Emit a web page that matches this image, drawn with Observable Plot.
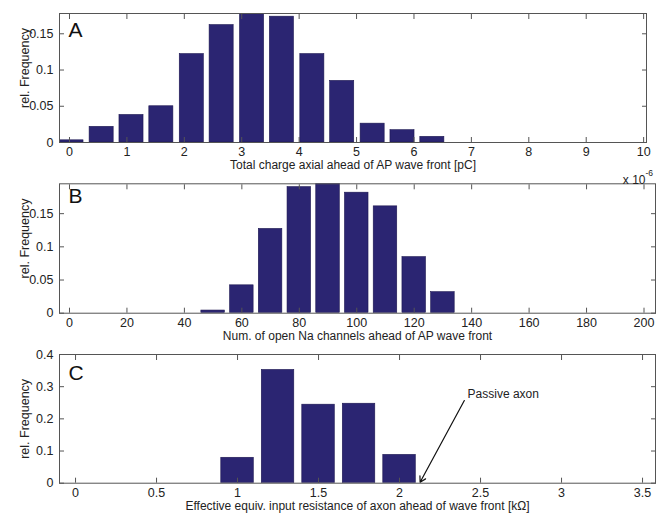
<!DOCTYPE html>
<html><head><meta charset="utf-8">
<script src="https://cdn.jsdelivr.net/npm/d3@7"></script>
<script src="https://cdn.jsdelivr.net/npm/@observablehq/plot@0.6"></script>
<style>
body{margin:0;background:#fff;}
#fig{position:relative;width:657px;height:518px;}
#fig svg{position:absolute;left:0;}
</style></head><body><div id="fig"></div>
<script>
// Panel A: total charge (x 1e-6 pC)
const chargeCenters = [0.035, 0.56, 1.08, 1.60, 2.13, 2.65, 3.18, 3.70, 4.23, 4.75, 5.28, 5.80, 6.32];
const chargeFreq    = [0.003, 0.0216, 0.038, 0.050, 0.122, 0.162, 0.182, 0.1736, 0.122, 0.085, 0.026, 0.017, 0.0078];
const chargeTicksX  = [0,1,2,3,4,5,6,7,8,9,10];
// Panel B: number of open Na channels
const naCenters = [50, 60, 70, 80, 90, 100, 110, 120, 130];
const naFreq    = [0.004, 0.042, 0.127, 0.190, 0.198, 0.1816, 0.161, 0.0845, 0.0317];
const naTicksX  = [0,20,40,60,80,100,120,140,160,180,200];
const freqTicksAB = [0, 0.05, 0.1, 0.15];
// Panel C: effective input resistance (kOhm)
const resCenters = [1.0, 1.25, 1.5, 1.75, 2.0];
const resFreq    = [0.079, 0.352, 0.244, 0.247, 0.088];
const resTicksX  = [0, 0.5, 1, 1.5, 2, 2.5, 3, 3.5];
const freqTicksC = [0, 0.1, 0.2, 0.3, 0.4];
const passiveAxon = [{label: "Passive axon", x: 2.127, y: 0.003, x0: 2.40, y0: 0.257, lx: 2.42, ly: 0.276}];

const FONT = "Liberation Sans, Arial, Helvetica, sans-serif";
const BAR = "#2b2572";
const fmt = d => `${d}`;

function panel(o) {
  const data = o.centers.map((c, i) => ({x1: c - o.bin / 2, x2: c + o.bin / 2, y: o.freqs[i]}));
  const marks = [
    Plot.rectY(data, {x1: "x1", x2: "x2", y: "y", fill: BAR, stroke: "#1c1650", strokeWidth: 0.6,
      insetLeft: o.inset, insetRight: o.inset, clip: true}),
    Plot.frame({stroke: "#555", strokeWidth: 1}),
    Plot.axisX(o.xTicks, {anchor: "bottom", tickSize: -5, tickPadding: 10, tickFormat: fmt, label: null,
      stroke: "#555", fill: "#222", fontSize: 12.5}),
    Plot.axisX(o.xTicks, {anchor: "top", tickSize: -5, tickFormat: () => "", label: null, stroke: "#555"}),
    Plot.axisY(o.yTicks, {anchor: "left", tickSize: -5, tickPadding: 11, tickFormat: fmt, label: null,
      stroke: "#555", fill: "#222", fontSize: 12.5}),
    Plot.axisY(o.yTicks, {anchor: "right", tickSize: -5, tickFormat: () => "", label: null, stroke: "#555"}),
    Plot.text([o.xLabel], {text: d => d, frameAnchor: "bottom", dy: o.xLabelDy, lineAnchor: "middle",
      fontSize: 12, fill: "#222"}),
    Plot.text(["rel. Frequency"], {text: d => d, frameAnchor: "left", rotate: -90, dx: -31, dy: o.yLabelDy,
      textAnchor: "middle", lineAnchor: "bottom", fontSize: 12.5, fill: "#222"}),
    Plot.text([o.letter], {text: d => d, frameAnchor: "top-left", dx: 9, dy: o.letterDy, lineAnchor: "top",
      textAnchor: "start", fontSize: 21, fill: "#111"}),
    ...(o.extra || [])
  ];
  const svg = Plot.plot({
    width: 657, height: o.height,
    marginLeft: 59, marginRight: o.marginRight, marginTop: o.marginTop, marginBottom: o.marginBottom,
    x: {domain: o.xDomain}, y: {domain: o.yDomain},
    style: {fontFamily: FONT, background: "transparent", overflow: "visible"},
    marks
  });
  svg.style.top = o.top + "px";
  document.getElementById("fig").appendChild(svg);
}

panel({
  centers: chargeCenters, freqs: chargeFreq, bin: 0.5235, inset: 3,
  xDomain: [-0.174, 10.05], yDomain: [0, 0.178], xTicks: chargeTicksX, yTicks: freqTicksAB,
  xLabel: "Total charge axial ahead of AP wave front [pC]", letter: "A",
  top: 0, height: 170, marginTop: 13, marginBottom: 28, marginRight: 11,
  xLabelDy: 23, yLabelDy: -10, letterDy: 9
});

panel({
  centers: naCenters, freqs: naFreq, bin: 10, inset: 2.6,
  xDomain: [-3.48, 204], yDomain: [0, 0.195], xTicks: naTicksX, yTicks: freqTicksAB,
  xLabel: "Num. of open Na channels ahead of AP wave front", letter: "B",
  top: 170, height: 170, marginTop: 13.3, marginBottom: 27.3, marginRight: 2,
  xLabelDy: 23, yLabelDy: -10, letterDy: 4,
  extra: [
    Plot.text(["x 10"], {text: d => d, frameAnchor: "top-right", textAnchor: "end", lineAnchor: "bottom",
      dx: -10, dy: 0, fontSize: 12, fill: "#222"}),
    Plot.text(["-6"], {text: d => d, frameAnchor: "top-right", textAnchor: "start", lineAnchor: "bottom",
      dx: -10, dy: -8, fontSize: 8.5, fill: "#222"})
  ]
});

panel({
  centers: resCenters, freqs: resFreq, bin: 0.25, inset: 4,
  xDomain: [-0.099, 3.58], yDomain: [0, 0.4], xTicks: resTicksX, yTicks: freqTicksC,
  xLabel: "Effective equiv. input resistance of axon ahead of wave front [k\u03A9]", letter: "C",
  top: 340, height: 178, marginTop: 14, marginBottom: 35.3, marginRight: 2,
  xLabelDy: 23, yLabelDy: 0, letterDy: 11,
  extra: [
    Plot.arrow(passiveAxon, {x1: "x0", y1: "y0", x2: "x", y2: "y", stroke: "#111", strokeWidth: 1.2, headLength: 8}),
    Plot.text(passiveAxon, {x: "lx", y: "ly", text: "label", textAnchor: "start", fontSize: 12, fill: "#222"})
  ]
});
</script></body></html>
